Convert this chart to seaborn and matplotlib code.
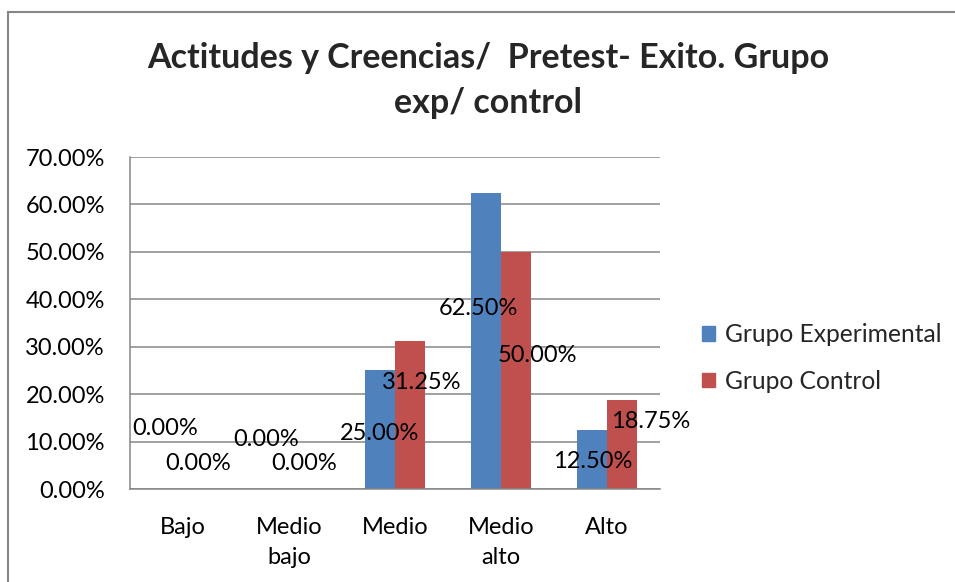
import matplotlib
matplotlib.use("Agg")
import matplotlib.pyplot as plt
import seaborn as sns
import pandas as pd
from matplotlib.patches import Rectangle

categories = ["Bajo", "Medio\nbajo", "Medio", "Medio\nalto", "Alto"]
series = ["Grupo Experimental", "Grupo Control"]
experimental = [0.0, 0.0, 25.0, 62.5, 12.5]
control = [0.0, 0.0, 31.25, 50.0, 18.75]
y_ticks = [0, 10, 20, 30, 40, 50, 60, 70]

# where each data label sits: (offset from category centre, height in %)
label_pos_exp = [(-0.165, 12.86), (-0.217, 10.54), (-0.142, 11.8), (-0.217, 38.16), (-0.137, 5.9)]
label_pos_ctl = [(0.146, 5.48), (0.146, 5.48), (0.25, 22.35), (0.344, 28.25), (0.415, 14.13)]

colors = ["#4F81BD", "#C0504D"]
FS = 17

df = pd.DataFrame({
    "cat": categories * 2,
    "grupo": [series[0]] * len(categories) + [series[1]] * len(categories),
    "valor": experimental + control,
})

sns.set_theme(style="white")
plt.rcParams["font.family"] = ["Lato", "DejaVu Sans"]

fig = plt.figure(figsize=(9.55, 5.82), dpi=100)
ax = fig.add_axes([130 / 955, 1 - 489 / 582, (660 - 130) / 955, (489 - 157) / 582])

sns.barplot(data=df, x="cat", y="valor", hue="grupo", palette=colors,
            width=0.57, saturation=1, ax=ax, legend=False, linewidth=0)

ax.set_ylim(0, 70)
ax.set_xlim(-0.5, len(categories) - 0.5)
ax.set_yticks(y_ticks)
ax.set_yticklabels([f"{t:.2f}%" for t in y_ticks], fontsize=FS, color="black")
ax.set_xticks(range(len(categories)))
ax.set_xticklabels(categories, fontsize=FS, color="black", linespacing=1.55)
ax.tick_params(axis="x", pad=20, length=0)
ax.tick_params(axis="y", pad=18, length=0)
ax.set_xlabel("")
ax.set_ylabel("")
ax.grid(axis="y", color="#868686", linewidth=1.1)
ax.set_axisbelow(True)
for side in ["top", "right"]:
    ax.spines[side].set_visible(False)
for side in ["left", "bottom"]:
    ax.spines[side].set_color("#868686")
    ax.spines[side].set_linewidth(1.1)

for i in range(len(categories)):
    dx, yy = label_pos_exp[i]
    ax.text(i + dx, yy, f"{experimental[i]:.2f}%", ha="center", va="center",
            fontsize=FS, color="black")
    dx, yy = label_pos_ctl[i]
    ax.text(i + dx, yy, f"{control[i]:.2f}%", ha="center", va="center",
            fontsize=FS, color="black")

fig.text(488 / 955, 1 - 58 / 582, "Actitudes y Creencias/  Pretest- Exito. Grupo",
         ha="center", va="center", fontsize=24.5, fontweight="bold")
fig.text(488 / 955, 1 - 103 / 582, "exp/ control",
         ha="center", va="center", fontsize=24.5, fontweight="bold")

handles = [Rectangle((0, 0), 1, 1, color=c) for c in colors]
fig.legend(handles, series, loc="center left", bbox_to_anchor=(702 / 955, 1 - 358 / 582),
           frameon=False, fontsize=17.7, handlelength=0.52, handleheight=0.52,
           handletextpad=0.42, labelspacing=0.95, borderaxespad=0, borderpad=0)

# outer chart frame
fig.patches.append(Rectangle((8 / 955, -0.1), 1.2, 1 - 12 / 582 + 0.1,
                             transform=fig.transFigure, fill=False,
                             edgecolor="#868686", linewidth=1.5))

fig.savefig("out.png", dpi=100)
